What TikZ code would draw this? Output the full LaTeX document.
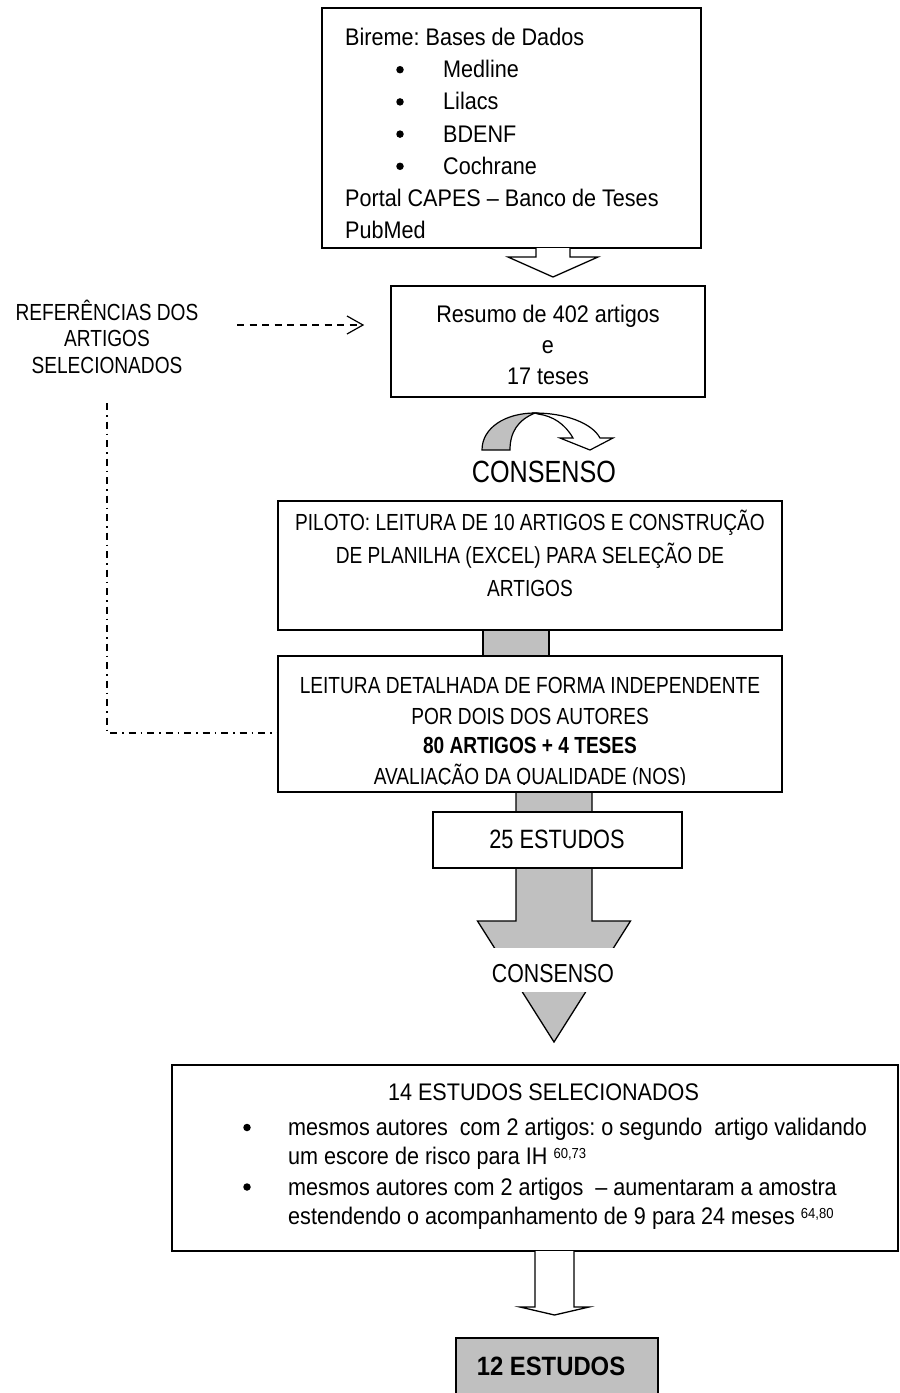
\documentclass[tikz,border=0pt]{standalone}
\usepackage{fontspec}
\setmainfont{Liberation Sans}
\newfontfamily\fa[FakeStretch=0.82]{Liberation Sans}
\newfontfamily\fb[FakeStretch=0.9]{Liberation Sans}
\definecolor{gfill}{RGB}{192,192,192}
\newcommand{\mysup}[1]{\raisebox{6pt}{\fontsize{14.5}{14.5}\selectfont #1}}
\frenchspacing
\begin{document}
\begin{tikzpicture}[x=1pt,y=-1pt,
  box/.style={draw,line width=1.8pt,fill=white,inner sep=0pt,outer sep=0pt,anchor=north west},
  la/.style={font=\fa\fontsize{23.3}{28}\selectfont,inner sep=0pt,anchor=base},
  lb/.style={font=\fb\fontsize{24}{28}\selectfont,inner sep=0pt,anchor=base},
  lbw/.style={lb,anchor=base west},
  harrow/.style={draw,line width=1.3pt,fill=white,line join=miter},
  garrow/.style={draw,line width=1.3pt,fill=gfill,line join=miter},
  bul/.style={circle,fill=black,inner sep=0pt,minimum size=7.5pt},
]
\useasboundingbox (0,0) rectangle (900,1393);
\clip (0,0) rectangle (900,1393);

% ---------- connectors (drawn below boxes) ----------
% gray connector between PILOTO and LEITURA
\draw[garrow] (483,630) rectangle (549,656);
% big gray arrow from LEITURA
\coordinate (g1) at (554,792);
\draw[garrow] (g1) ++(-38,0) -- ++(0,129) -- ++(-38.5,0) -- ++(76.5,121) -- ++(76.5,-121) -- ++(-38.5,0) -- ++(0,-129);

% ---------- boxes ----------
\node[box,minimum width=379pt,minimum height=240pt] (bTop) at (322,8) {};
\node[box,minimum width=314pt,minimum height=111pt] (bRes) at (391,286) {};
\node[box,minimum width=504pt,minimum height=129pt] (bPil) at (278,501) {};
\node[box,minimum width=504pt,minimum height=136pt] (bLei) at (278,656) {};
\node[box,minimum width=249pt,minimum height=56pt] (b25) at (433,812) {};
\node[box,minimum width=726pt,minimum height=186pt] (bSel) at (172,1065) {};
\node[box,fill=gfill,minimum width=202pt,minimum height=80pt] (b12) at (456,1338) {};

% ---------- top hollow arrow ----------
\coordinate (a1) at (553,248);
\draw[harrow] (a1) ++(-17,0) -- ++(0,9) -- ++(-28,0) -- ++(45,20) -- ++(45,-20) -- ++(-28,0) -- ++(0,-9);

% ---------- bottom hollow arrow ----------
\coordinate (a3) at (554.5,1251);
\draw[harrow] (a3) ++(-19.5,0) -- ++(0,56) -- ++(-15,0) -- ++(34.5,8) -- ++(34.5,-8) -- ++(-15,0) -- ++(0,-56);

% ---------- curved arrow ----------
\draw[line width=1.2pt,fill=white,line join=miter]
  (535,413) .. controls (565,413) and (592,423) .. (600,438)
  -- (613,438) -- (590,450) -- (560,438) -- (573,438)
  .. controls (565,424) and (553,416) .. (538,414) -- cycle;
\draw[line width=1.2pt,fill=gfill]
  (482,450) .. controls (482,428) and (505,413) .. (535,413)
  .. controls (518,420) and (510,432) .. (510,450) -- cycle;

% ---------- top box text ----------
\node[lbw] (t1) at (345,45.5) {Bireme: Bases de Dados};
\node[bul] (u1) at (400,69.7) {};
\node[lbw] (t2) at (443,77.7) {Medline};
\node[bul] (u2) at (400,101.9) {};
\node[lbw] (t3) at (443,109.9) {Lilacs};
\node[bul] (u3) at (400,134.1) {};
\node[lbw] (t4) at (443,142.1) {BDENF};
\node[bul] (u4) at (400,166.3) {};
\node[lbw] (t5) at (443,174.3) {Cochrane};
\node[lbw] (t6) at (345,206.5) {Portal CAPES – Banco de Teses};
\node[lbw] (t7) at (345,238.7) {PubMed};

% ---------- resumo ----------
\node[lb] (r1) at (548,322) {Resumo de 402 artigos};
\node[lb] (r2) at (548,353) {e};
\node[lb] (r3) at (548,384) {17 teses};

% ---------- referencias ----------
\node[la] (f1) at (107,320) {REFERÊNCIAS DOS};
\node[la] (f2) at (107,346.5) {ARTIGOS};
\node[la] (f3) at (107,373) {SELECIONADOS};

\coordinate (d1) at (237,325);
\coordinate (d2) at (363,325);
\draw[line width=1.2pt,dash pattern=on 7pt off 5.5pt] (d1) -- (d2);
\draw[line width=1.2pt] ([xshift=-16pt,yshift=9pt]d2) -- (d2) -- ([xshift=-16pt,yshift=-9pt]d2);

\coordinate (e1) at (107,403);
\coordinate (e2) at ([yshift=-9pt]bLei.west);
\draw[line width=1.3pt,dash pattern=on 7pt off 5pt on 1.5pt off 5pt] (e1) |- (e2);

% ---------- consenso 1 ----------
\node[la,font=\fa\fontsize{30.7}{34}\selectfont] (c1) at (544,482) {CONSENSO};

% ---------- piloto ----------
\node[la] (p1) at (530,530) {PILOTO: LEITURA DE 10 ARTIGOS E CONSTRUÇÃO};
\node[la] (p2) at (530,563) {DE PLANILHA (EXCEL) PARA SELEÇÃO DE};
\node[la] (p3) at (530,596) {ARTIGOS};

% ---------- leitura ----------
\begin{scope}
\clip (278,656) rectangle (782,784);
\node[la] (l1) at (530,693) {LEITURA DETALHADA DE FORMA INDEPENDENTE};
\node[la] (l2) at (530,724) {POR DOIS DOS AUTORES};
\node[la] (l3) at (530,753.5) {\bfseries 80 ARTIGOS + 4 TESES};
\node[la] (l4) at (530,784) {AVALIAÇÃO DA QUALIDADE (NOS)};
\end{scope}

% ---------- 25 estudos ----------
\node[la,font=\fa\fontsize{26.5}{30}\selectfont] (t25) at (557,848) {25 ESTUDOS};

% ---------- consenso 2 ----------
\fill[white] (478,948) rectangle (630,992);
\node[la,font=\fa\fontsize{26}{30}\selectfont] (c2) at (553,982) {CONSENSO};

% ---------- selecionados ----------
\node[lb] (s0) at (543.5,1100.5) {14 ESTUDOS SELECIONADOS};
\node[bul] (v1) at (247,1127.5) {};
\node[lbw] (s1) at (288,1135.5) {mesmos autores\ \ com 2 artigos: o segundo\ \ artigo validando};
\node[lbw] (s2) at (288,1164.5) {um escore de risco para IH \mysup{60,73}};
\node[bul] (v2) at (247,1187) {};
\node[lbw] (s3) at (288,1195) {mesmos autores com 2 artigos\ \ – aumentaram a amostra};
\node[lbw] (s4) at (288,1224) {estendendo o acompanhamento de 9 para 24 meses \mysup{64,80}};

% ---------- 12 estudos ----------
\node[lb,font=\fb\bfseries\fontsize{26.5}{30}\selectfont] (t12) at (551,1375) {12 ESTUDOS};
\end{tikzpicture}
\end{document}
